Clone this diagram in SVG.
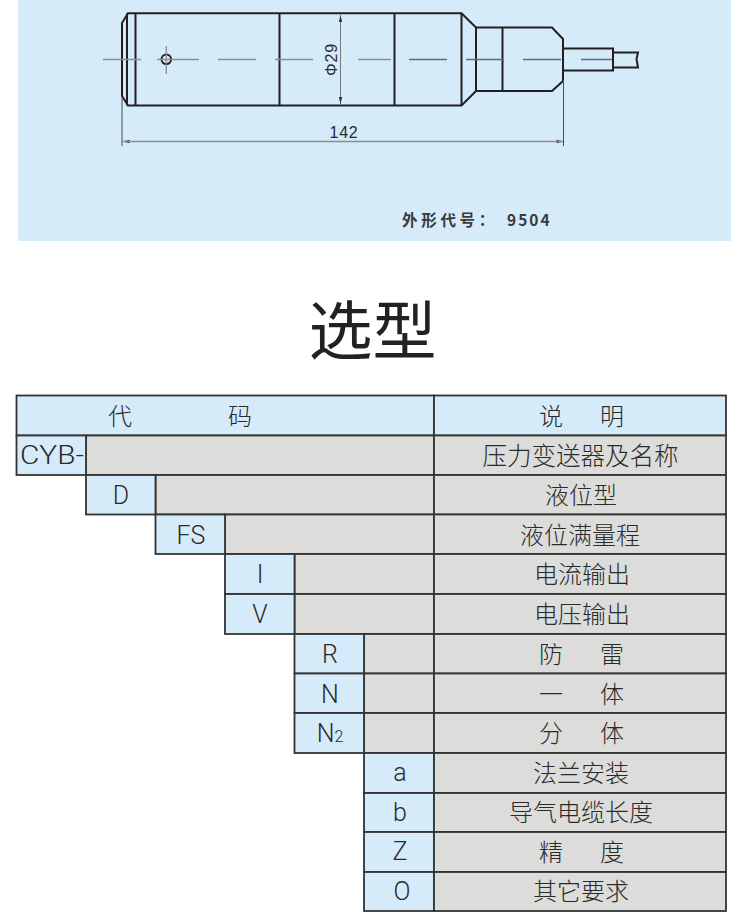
<svg xmlns="http://www.w3.org/2000/svg" width="750" height="912" viewBox="0 0 750 912">
<style>
.d{fill:none;stroke:#231f20;stroke-width:2}
.c{fill:none;stroke:#8a8f92;stroke-width:1.300}
.c2{fill:none;stroke:#666b6e;stroke-width:1.500}
.a{fill:none;stroke:#777;stroke-width:1}
.m{fill:none;stroke:#4a4d4f;stroke-width:1}
.k{fill:#d6ebfa;stroke:#333;stroke-width:1.800}
.g{fill:#dcdcda;stroke:#333;stroke-width:1.800}
.t{font-family:"Noto Sans CJK SC","Liberation Sans",sans-serif;font-size:24px;fill:#2a2a2a;text-anchor:middle;font-weight:300}
.l{font-family:Roboto,"Noto Sans","Liberation Sans",sans-serif;font-size:25px;fill:#2a2a2a;text-anchor:middle;font-weight:300}
</style>
<rect width="750" height="912" fill="#fff"/>
<rect x="18" y="0" width="713" height="241" fill="#d6ebfa"/>
<g id="drawing">
<path class="d" d="M128 13.300H461.500L476 27.500H552L563 39V81L552 91H476L461.500 105.500H128L122 96V23Z"/>
<path class="d" d="M127 13.300V105.500M135.500 13.300V105.500M279.500 13.300V105.500M394.500 13.300V105.500M461.500 13.300V105.500M476 27.500V91M502.500 27.500V91"/>
<path class="d" d="M563.500 48.500H613V70.500H563.500M613 48.500V70.500M613 52.500H638L636.500 59L638 67.500H613"/>
<circle class="d" cx="166.300" cy="59.300" r="4.800"/>
<path class="c" d="M166.300 46V74M103 59.500H141M157 59.500H199M218 59.500H256M275 59.500H313M358 59.500H391"/>
<path class="c2" d="M409 59.500H447M466 59.500H504M523 59.500H561M581 59.500H612"/>
<path class="a" d="M340.500 15V104"/>
<path fill="#333" d="M340.500 15l-1.700 7h3.400zM340.500 104l-1.700-7h3.400zM122.500 141.500l7-1.700v3.400zM563.500 141.500l-7-1.700v3.400z"/>
<path class="m" d="M122 98V146M563.500 80V146"/>
<path class="c" d="M122.500 141.500H563"/>
<text transform="translate(337 59.500) rotate(-90)" font-family="Liberation Sans,sans-serif" font-size="16" fill="#2a2a2a" text-anchor="middle" letter-spacing=".8">Φ29</text>
<text x="344" y="138" font-family="Liberation Sans,sans-serif" font-size="16" fill="#2a2a2a" text-anchor="middle" letter-spacing=".8">142</text>
<text x="402" y="226" font-family="Noto Sans CJK SC,sans-serif" font-size="15.500" font-weight="700" fill="#3a3a3a" letter-spacing="3.700">外形代号：<tspan x="507" letter-spacing="2">9504</tspan></text>
</g>
<text x="372.500" y="354" font-family="Noto Sans CJK SC,sans-serif" font-size="64" fill="#222" text-anchor="middle">选型</text>
<g id="head">
<rect class="k" x="16.500" y="395.500" width="417.500" height="40"/>
<rect class="k" x="434" y="395.500" width="292" height="40"/>
<text class="t" x="120" y="425">代</text>
<text class="t" x="240" y="425">码</text>
<text class="t" x="551 612" y="425">说明</text>
</g>
<g id="r1"><rect class="g" x="86" y="435.500" width="348" height="39.500"/><rect class="k" x="16.500" y="435.500" width="69.500" height="39.500"/><rect class="g" x="434" y="435.500" width="292" height="39.500"/>
<text class="l" x="52" y="464" textLength="64" lengthAdjust="spacingAndGlyphs">CYB-</text><text class="t" style="font-size:24.500px" x="580.500" y="465">压力变送器及名称</text></g>
<g id="r2"><rect class="g" x="155.500" y="475" width="278.500" height="39.500"/><rect class="k" x="86" y="475" width="69.500" height="39.500"/><rect class="g" x="434" y="475" width="292" height="39.500"/>
<text class="l" x="121" y="504">D</text><text class="t" x="581" y="504">液位型</text></g>
<g id="r3"><rect class="g" x="225" y="514.500" width="209" height="39.500"/><rect class="k" x="155.500" y="514.500" width="69.500" height="39.500"/><rect class="g" x="434" y="514.500" width="292" height="39.500"/>
<text class="l" x="191" y="544">FS</text><text class="t" x="580" y="544">液位满量程</text></g>
<g id="r4"><rect class="g" x="294.500" y="554" width="139.500" height="40"/><rect class="k" x="225" y="554" width="69.500" height="40"/><rect class="g" x="434" y="554" width="292" height="40"/>
<text class="l" x="260" y="583">I</text><text class="t" x="582" y="583">电流输出</text></g>
<g id="r5"><rect class="g" x="294.500" y="594" width="139.500" height="40"/><rect class="k" x="225" y="594" width="69.500" height="40"/><rect class="g" x="434" y="594" width="292" height="40"/>
<text class="l" x="260" y="623">V</text><text class="t" x="582" y="623">电压输出</text></g>
<g id="r6"><rect class="g" x="364" y="634" width="70" height="39.500"/><rect class="k" x="294.500" y="634" width="69.500" height="39.500"/><rect class="g" x="434" y="634" width="292" height="39.500"/>
<text class="l" x="330" y="663">R</text><text class="t" x="551 612" y="663">防雷</text></g>
<g id="r7"><rect class="g" x="364" y="673.500" width="70" height="39.500"/><rect class="k" x="294.500" y="673.500" width="69.500" height="39.500"/><rect class="g" x="434" y="673.500" width="292" height="39.500"/>
<text class="l" x="330" y="703">N</text><text class="t" x="551 612" y="703">一体</text></g>
<g id="r8"><rect class="g" x="364" y="713" width="70" height="40"/><rect class="k" x="294.500" y="713" width="69.500" height="40"/><rect class="g" x="434" y="713" width="292" height="40"/>
<text class="l" x="330" y="742">N<tspan font-size="16">2</tspan></text><text class="t" x="551 612" y="742">分体</text></g>
<g id="r9"><rect class="k" x="364" y="753" width="70" height="40"/><rect class="g" x="434" y="753" width="292" height="40"/>
<text class="l" x="400" y="781">a</text><text class="t" x="581" y="782">法兰安装</text></g>
<g id="r10"><rect class="k" x="364" y="793" width="70" height="39"/><rect class="g" x="434" y="793" width="292" height="39"/>
<text class="l" x="400" y="821">b</text><text class="t" x="581" y="821">导气电缆长度</text></g>
<g id="r11"><rect class="k" x="364" y="832" width="70" height="40"/><rect class="g" x="434" y="832" width="292" height="40"/>
<text class="l" x="400" y="860">Z</text><text class="t" x="551 612" y="861">精度</text></g>
<g id="r12"><rect class="k" x="364" y="872" width="70" height="39"/><rect class="g" x="434" y="872" width="292" height="39"/>
<text class="l" x="402" y="900">O</text><text class="t" x="581" y="900">其它要求</text></g>
</svg>
